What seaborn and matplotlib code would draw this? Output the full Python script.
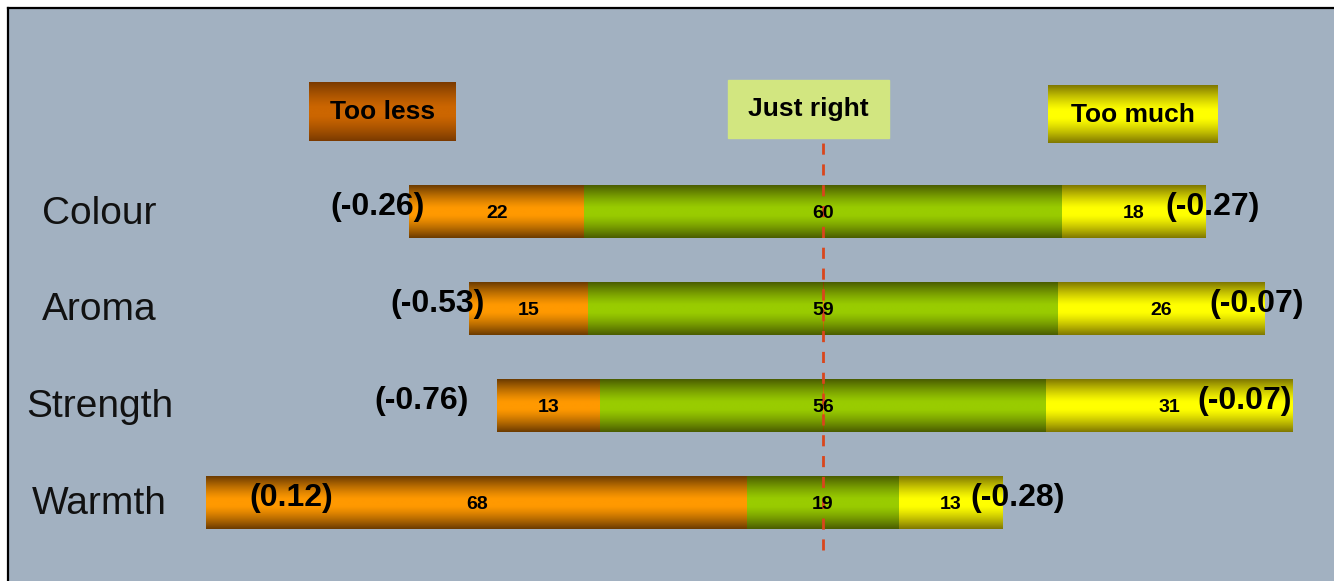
import numpy as np
import pandas as pd
import matplotlib
matplotlib.use("Agg")
import matplotlib.pyplot as plt
import matplotlib.transforms as mtransforms
from matplotlib.colors import LinearSegmentedColormap
import seaborn as sns

attributes = ["Colour", "Aroma", "Strength", "Warmth"]
too_less = [22, 15, 13, 68]
just_right = [60, 59, 56, 19]
too_much = [18, 26, 31, 13]
score_less = ["(-0.26)", "(-0.53)", "(-0.76)", "(0.12)"]
score_much = ["(-0.27)", "(-0.07)", "(-0.07)", "(-0.28)"]
legend_labels = ["Too less", "Just right", "Too much"]

# small shifts of the penalty labels relative to the bar ends
left_nudge = [2, 2, -3.5, 16]
right_nudge = [-5, -7, -12, -4]

bg = "#a2b1c1"


def grad_cmap(edge, center):
    return LinearSegmentedColormap.from_list("g", [edge, center])


orange_cm = grad_cmap("#6b3a00", "#ff9900")
green_cm = grad_cmap("#4a5c00", "#99cc00")
yellow_cm = grad_cmap("#7f7700", "#ffff00")
less_box_cm = grad_cmap("#7a3a00", "#cc6600")

# vertical shading: dark at top/bottom edge, bright in the middle
prof = np.linspace(0, 1, 200)
d = np.abs(2 * prof - 1)
k = np.clip((d - 0.12) / 0.88, 0, 1) ** 1.3
grad = (1 - k).reshape(-1, 1)


def gradient_rect(ax, x0, x1, y0, y1, cmap, z):
    ax.imshow(grad, extent=[x0, x1, y1, y0], cmap=cmap, vmin=0, vmax=1,
              aspect="auto", interpolation="bilinear", zorder=z)


sns.set_theme(style="white")
plt.rcParams["font.family"] = ["Liberation Sans", "DejaVu Sans"]
plt.rcParams["text.color"] = "black"

fig = plt.figure(figsize=(13.34, 5.81), dpi=100)
ax = fig.add_axes([8 / 1334, 0, 1 - 8 / 1334, 573 / 581])
ax.set_facecolor(bg)

half = np.array(just_right) / 2
lo = np.array(too_less)
hi = np.array(too_much)

df = pd.DataFrame({"attr": attributes, "right_end": half + hi, "half": half,
                   "left_end": -(half + lo), "neg_half": -half})

cmaps = []
for col, cm in [("right_end", yellow_cm), ("half", green_cm),
                ("left_end", orange_cm), ("neg_half", green_cm)]:
    sns.barplot(data=df, x=col, y="attr", orient="h", color="white",
                width=0.54, saturation=1, ax=ax)
    cmaps += [cm] * len(df)

for i, (p, cm) in enumerate(zip(list(ax.patches), cmaps)):
    x0, x1 = sorted([p.get_x(), p.get_x() + p.get_width()])
    y0, y1 = p.get_y(), p.get_y() + p.get_height()
    gradient_rect(ax, x0, x1, y0, y1, cm, 2 + i * 0.01)
    p.set_visible(False)

# segment counts and penalty scores
for i in range(len(attributes)):
    ax.text(-(half[i] + lo[i] / 2), i + 0.02, str(too_less[i]), ha="center", va="center",
            fontsize=14, fontweight="bold", zorder=6)
    ax.text(0, i + 0.02, str(just_right[i]), ha="center", va="center",
            fontsize=14, fontweight="bold", zorder=6)
    ax.text(half[i] + hi[i] / 2, i + 0.02, str(too_much[i]), ha="center", va="center",
            fontsize=14, fontweight="bold", zorder=6)
    ax.text(-(half[i] + lo[i]) + left_nudge[i], i - 0.05, score_less[i], ha="right",
            va="center", fontsize=23, fontweight="bold", zorder=7)
    ax.text(half[i] + hi[i] + right_nudge[i], i - 0.05, score_much[i], ha="left",
            va="center", fontsize=23, fontweight="bold", zorder=7)

# category names inside the panel
blend = mtransforms.blended_transform_factory(ax.transAxes, ax.transData)
for i, name in enumerate(attributes):
    ax.text(0.069, i + 0.02, name, transform=blend, ha="center", va="center",
            fontsize=28, color="#111111")

# legend boxes
gradient_rect(ax, -64.6, -46.2, -1.33, -0.73, less_box_cm, 3)
ax.text(-55.4, -1.03, legend_labels[0], ha="center", va="center", fontsize=19,
        fontweight="bold", zorder=4)
ax.add_patch(plt.Rectangle((-11.9, -1.36), 20.2, 0.6, color="#d2e680", zorder=3))
ax.text(-1.8, -1.06, legend_labels[1], ha="center", va="center", fontsize=19,
        fontweight="bold", zorder=4)
gradient_rect(ax, 28.3, 49.6, -1.30, -0.71, yellow_cm, 3)
ax.text(38.9, -1.0, legend_labels[2], ha="center", va="center", fontsize=19,
        fontweight="bold", zorder=4)

ax.set_xlim(-102.4, 64.2)
ax.set_ylim(3.81, -2.10)

ax.axvline(0, ymin=0.054, ymax=0.773, color="#d9461c", lw=2, dashes=(4, 3.5), zorder=5)

ax.set_xticks([])
ax.set_yticks([])
ax.set_xlabel("")
ax.set_ylabel("")
for s in ["right", "bottom"]:
    ax.spines[s].set_visible(False)
for s in ["left", "top"]:
    ax.spines[s].set_color("black")
    ax.spines[s].set_linewidth(1.6)

fig.savefig("out.png", dpi=100, facecolor="white")
